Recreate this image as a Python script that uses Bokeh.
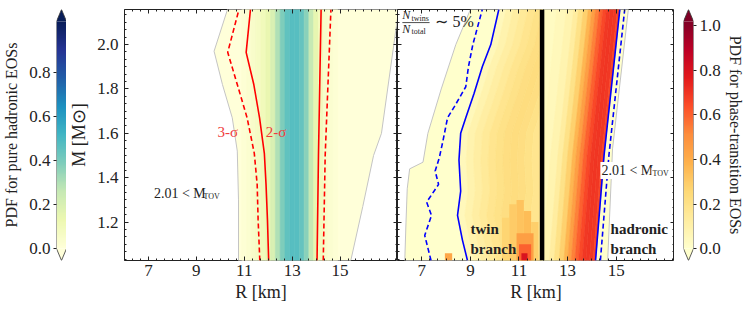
import numpy as np
from bokeh.plotting import figure
from bokeh.layouts import row
from bokeh.models import (ColumnDataSource, FixedTicker, LinearAxis, LinearColorMapper,
                          PrintfTickFormatter, Span, CustomLabelingPolicy)
from bokeh.palettes import YlGnBu9, YlOrRd9
from bokeh.transform import linear_cmap
from bokeh.core.properties import value
from bokeh.embed import file_html
from bokeh.resources import INLINE

FONT = "Liberation Serif"

# ---------------- axes / ticks ----------------
R_range = (6.0, 17.4)
M_range = (1.027, 2.158)
R_ticks = [7, 9, 11, 13, 15]
M_ticks = [1.2, 1.4, 1.6, 1.8, 2.0]
cb_had_ticks = [0.0, 0.2, 0.4, 0.6, 0.8]
cb_pt_ticks = [0.0, 0.2, 0.4, 0.6, 0.8, 1.0]
cb_had_max = 1.03
cb_pt_max = 1.02

# ---------------- left panel: pure hadronic EOSs ----------------
had_support_left_R = [10.76, 10.76, 10.71, 10.5, 10.09, 9.74, 10.3]
had_support_left_M = [1.027, 1.3, 1.52, 1.67, 1.82, 1.97, 2.158]
had_support_right_R = [17.45, 16.73, 16.4, 15.95, 15.45]
had_support_right_M = [2.158, 1.6, 1.5, 1.27, 1.027]

had_pdf_R = [11.0, 11.2, 11.4, 11.6, 11.8, 12.0, 12.2, 12.4, 12.6, 12.8,
             13.0, 13.2, 13.4, 13.6, 13.8, 14.0, 14.2, 14.4, 14.6, 14.8]
had_pdf = [0.02, 0.03, 0.05, 0.07, 0.10, 0.14, 0.20, 0.30, 0.39, 0.45,
           0.47, 0.47, 0.44, 0.37, 0.26, 0.15, 0.09, 0.05, 0.03, 0.02]

sig_left_M = [1.027, 1.21, 1.37, 1.51, 1.67, 1.82, 1.965, 2.158]
sig2_left_R = [12.02, 11.97, 11.91, 11.84, 11.64, 11.4, 11.08, 11.26]
sig3_left_R = [11.65, 11.58, 11.54, 11.42, 11.12, 10.71, 10.31, 10.78]
sig_right_M = [1.027, 1.5, 2.158]
sig2_right_R = [14.04, 14.1, 14.21]
sig3_right_R = [14.3, 14.38, 14.62]

# ---------------- right panel: phase-transition EOSs ----------------
pt_support_left_R = [6.3, 6.35, 6.4, 6.5, 7.05, 7.25, 7.8, 8.4, 9.0]
pt_support_left_M = [1.027, 1.2, 1.35, 1.44, 1.47, 1.6, 1.8, 2.0, 2.158]
pt_support_right_R = [15.5, 14.85, 14.65]
pt_support_right_M = [2.158, 1.53, 1.027]

twin_solid_M = [1.027, 1.12, 1.23, 1.34, 1.48, 1.6, 1.67, 1.78, 1.9, 2.0, 2.158]
twin_solid_R = [8.88, 8.67, 8.47, 8.6, 8.53, 8.6, 8.81, 9.15, 9.49, 9.84, 10.17]
twin_dash_M = [1.027, 1.14, 1.23, 1.29, 1.37, 1.43, 1.49, 1.56, 1.67, 1.72, 1.81, 1.9, 2.0, 2.158]
twin_dash_R = [7.38, 7.12, 7.4, 7.2, 7.69, 7.55, 7.72, 7.86, 8.06, 8.34, 8.81, 8.92, 9.1, 9.49]

hb_line_M = [1.027, 1.5, 2.158]
hb_solid_R = [14.15, 14.5, 15.15]
hb_dash_R = [14.35, 14.7, 15.35]

pt_onset_R = 11.95

# PDF bands measured as offset from the blue solid lines
twin_band_edges = [0.0, 0.3, 0.6, 0.9, 1.2, 1.5, 1.8, 2.1, 2.4, 2.7, 3.0, 3.5]
twin_band_pdf = [0.05, 0.09, 0.12, 0.15, 0.18, 0.20, 0.22, 0.23, 0.22, 0.20, 0.18]
hb_band_edges = [-3.4, -2.6, -2.2, -1.9, -1.7, -1.5, -1.3, -1.15, -1.0, -0.85,
                 -0.7, -0.55, -0.4, -0.25, -0.1, 0.0]
hb_band_pdf = [0.03, 0.05, 0.08, 0.13, 0.20, 0.28, 0.37, 0.45, 0.53, 0.60,
               0.65, 0.69, 0.70, 0.69, 0.66]

# dense streaks of the twin branch near the bottom
blob_R0 = [10.3, 10.6, 10.9, 11.2, 11.5, 10.9, 11.0, 11.1, 7.95]
blob_R1 = [10.6, 10.9, 11.2, 11.5, 11.8, 11.6, 11.5, 11.35, 8.25]
blob_M0 = [1.027, 1.027, 1.027, 1.027, 1.027, 1.027, 1.027, 1.027, 1.027]
blob_M1 = [1.22, 1.28, 1.30, 1.25, 1.20, 1.15, 1.10, 1.06, 1.06]
blob_pdf = [0.27, 0.30, 0.33, 0.35, 0.29, 0.45, 0.60, 0.80, 0.42]


# ---------------- helpers ----------------
def interp_hex(colors, n=256):
    rgb = np.array([[int(c[i:i + 2], 16) for i in (1, 3, 5)] for c in colors], float)
    pos = np.linspace(0, 1, len(colors))
    out = []
    for t in np.linspace(0, 1, n):
        out.append('#%02x%02x%02x' % tuple(int(round(np.interp(t, pos, rgb[:, k]))) for k in range(3)))
    return out


pal_had = interp_hex(list(YlGnBu9)[::-1])
pal_pt = interp_hex(list(YlOrRd9)[::-1])

H = 310
FRAME_TOP = 9
FRAME_H = 251

R_minor = list(np.arange(6.0, 17.45, 1.0 / 3.0))
M_minor = list(np.arange(1.0, 2.2, 0.2 / 6.0))


def style_axis(ax, ticks, minor, fmt, labels=True):
    ax.ticker = FixedTicker(ticks=ticks, minor_ticks=minor)
    ax.formatter = PrintfTickFormatter(format=fmt)
    ax.major_tick_in = 4
    ax.major_tick_out = 0
    ax.minor_tick_in = 2
    ax.minor_tick_out = 0
    ax.major_tick_line_color = "#222222"
    ax.minor_tick_line_color = "#222222"
    ax.axis_line_color = None
    if labels:
        ax.major_label_text_font = FONT
        ax.major_label_text_font_size = "17px"
        ax.major_label_text_color = "#222222"
    else:
        ax.major_label_policy = CustomLabelingPolicy(code="return []")
        ax.major_label_text_font_size = "0px"
        ax.major_label_standoff = 0


def make_panel(width, mb_left, left_labels, ylabel):
    p = figure(width=width, height=H, x_range=R_range, y_range=M_range,
               min_border_left=mb_left, min_border_right=0, min_border_top=FRAME_TOP,
               min_border_bottom=H - FRAME_TOP - FRAME_H,
               output_backend="svg", toolbar_location=None)
    p.grid.visible = False
    p.outline_line_color = "#222222"
    p.outline_line_width = 1
    style_axis(p.xaxis[0], R_ticks, R_minor, "%d")
    p.xaxis[0].major_label_standoff = 4
    p.xaxis[0].axis_label = "R [km]"
    p.xaxis[0].axis_label_text_font = FONT
    p.xaxis[0].axis_label_text_font_size = "18px"
    p.xaxis[0].axis_label_text_font_style = "normal"
    p.xaxis[0].axis_label_standoff = 3
    p.xaxis[0].axis_label_text_color = "#222222"
    style_axis(p.yaxis[0], M_ticks, M_minor, "%.1f", labels=left_labels)
    if left_labels:
        p.yaxis[0].major_label_standoff = 6
        p.yaxis[0].axis_label = ylabel
        p.yaxis[0].axis_label_text_font = FONT
        p.yaxis[0].axis_label_text_font_size = "18px"
        p.yaxis[0].axis_label_text_font_style = "normal"
        p.yaxis[0].axis_label_standoff = 5
        p.yaxis[0].axis_label_text_color = "#222222"
    top = LinearAxis()
    style_axis(top, R_ticks, R_minor, "%d", labels=False)
    p.add_layout(top, "above")
    right = LinearAxis()
    style_axis(right, M_ticks, M_minor, "%.1f", labels=False)
    p.add_layout(right, "right")
    return p


def offset_bands(line_R, line_M, edges, clip_lo=None, clip_hi=None):
    base = np.asarray(line_R, float)
    ms = list(line_M)
    xs, ys = [], []
    for d0, d1 in zip(edges[:-1], edges[1:]):
        a = base + d0
        b = base + d1
        if clip_lo is not None:
            a = np.maximum(a, clip_lo)
            b = np.maximum(b, clip_lo)
        if clip_hi is not None:
            a = np.minimum(a, clip_hi)
            b = np.minimum(b, clip_hi)
        xs.append(list(a) + list(b[::-1]))
        ys.append(ms + ms[::-1])
    return xs, ys


def txt(p, x, y, t, size, color="#222222", style="normal", align="left", bg=None):
    kw = {}
    if bg is not None:
        kw = dict(background_fill_color=bg, padding=1)
    p.text(x=[x], y=[y], text=[t], text_font=value(FONT), text_font_size=size,
           text_color=color, text_font_style=style, text_align=align,
           text_baseline="middle", **kw)


# ---------------- left panel ----------------
p1 = make_panel(52 + 279, 52, True, "M [M⊙]")
p1.patch(had_support_left_R + had_support_right_R, had_support_left_M + had_support_right_M,
         fill_color=pal_had[0], line_color="#c4c4c4", line_width=1)
edges = [had_pdf_R[0] - 0.1] + [0.5 * (a + b) for a, b in zip(had_pdf_R[:-1], had_pdf_R[1:])] + [had_pdf_R[-1] + 0.1]
src = ColumnDataSource(dict(l=edges[:-1], r=edges[1:], v=had_pdf))
cm_had = linear_cmap("v", pal_had, 0, cb_had_max)
p1.quad(left="l", right="r", bottom=M_range[0], top=M_range[1], source=src,
        fill_color=cm_had, line_color=cm_had, line_width=0.6)
p1.line(sig2_left_R, sig_left_M, line_color="red", line_width=1.6)
p1.line(sig2_right_R, sig_right_M, line_color="red", line_width=1.6)
p1.line(sig3_left_R, sig_left_M, line_color="red", line_width=1.6, line_dash="5 3")
p1.line(sig3_right_R, sig_right_M, line_color="red", line_width=1.6, line_dash="5 3")
txt(p1, 9.88, 1.604, "3-σ", "15px", color="#f03c3c")
txt(p1, 11.9, 1.604, "2-σ", "15px", color="#f03c3c")
txt(p1, 7.23, 1.329, "2.01 < M", "14px")
txt(p1, 9.3, 1.316, "TOV", "8px")

# ---------------- right panel ----------------
p2 = make_panel(277, 0, False, None)
p2.patch(pt_support_left_R + pt_support_right_R, pt_support_left_M + pt_support_right_M,
         fill_color=pal_pt[0], line_color="#c4c4c4", line_width=1)
cm_pt = linear_cmap("v", pal_pt, 0, cb_pt_max)
xs, ys = offset_bands(twin_solid_R, twin_solid_M, twin_band_edges, clip_hi=pt_onset_R)
p2.patches(xs="xs", ys="ys", source=ColumnDataSource(dict(xs=xs, ys=ys, v=twin_band_pdf)),
           fill_color=cm_pt, line_color=cm_pt, line_width=0.6)
xs, ys = offset_bands(hb_solid_R, hb_line_M, hb_band_edges, clip_lo=pt_onset_R)
p2.patches(xs="xs", ys="ys", source=ColumnDataSource(dict(xs=xs, ys=ys, v=hb_band_pdf)),
           fill_color=cm_pt, line_color=cm_pt, line_width=0.6)
p2.quad(left="l", right="r", bottom="b", top="t",
        source=ColumnDataSource(dict(l=blob_R0, r=blob_R1, b=blob_M0, t=blob_M1, v=blob_pdf)),
        fill_color=cm_pt, line_color=None)
p2.add_layout(Span(location=pt_onset_R, dimension="height", line_color="black", line_width=4.5))
p2.line(twin_solid_R, twin_solid_M, line_color="blue", line_width=1.6)
p2.line(twin_dash_R, twin_dash_M, line_color="blue", line_width=1.6, line_dash="5 3")
p2.line(hb_solid_R, hb_line_M, line_color="blue", line_width=1.6)
p2.line(hb_dash_R, hb_line_M, line_color="blue", line_width=1.6, line_dash="5 3")
txt(p2, 6.2, 2.131, "N", "12px", style="italic")
txt(p2, 6.58, 2.119, "twins", "8px")
p2.segment(x0=[6.2], y0=[2.099], x1=[7.32], y1=[2.099], line_color="#222222", line_width=0.8)
txt(p2, 6.2, 2.072, "N", "12px", style="italic")
txt(p2, 6.58, 2.060, "total", "8px")
txt(p2, 7.56, 2.104, "∼ 5%", "16px")
txt(p2, 9.0, 1.167, "twin", "15px", style="bold")
txt(p2, 9.0, 1.077, "branch", "15px", style="bold")
txt(p2, 14.77, 1.167, "hadronic", "15px", style="bold")
txt(p2, 14.77, 1.077, "branch", "15px", style="bold")
txt(p2, 14.35, 1.433, "2.01 < M", "14px", bg="white")
txt(p2, 16.45, 1.42, "TOV", "8px", bg="white")


# ---------------- colour bars ----------------
def make_cbar(width, mb_left, mb_right, side, pal, vmax, ticks, label, lab_standoff):
    ext = 12.0 * vmax / 230.0
    f = figure(width=width, height=H, x_range=(0, 1), y_range=(-ext, vmax + ext),
               min_border_left=mb_left, min_border_right=mb_right, min_border_top=8,
               min_border_bottom=H - 8 - 254, x_axis_location=None, y_axis_location=side,
               output_backend="svg", toolbar_location=None)
    f.grid.visible = False
    f.outline_line_color = None
    grad = np.linspace(0, vmax, 256).reshape(256, 1)
    f.image(image=[grad], x=0, y=0, dw=1, dh=vmax,
            color_mapper=LinearColorMapper(palette=pal, low=0, high=vmax))
    f.patch([0, 1, 0.5], [vmax, vmax, vmax + ext], fill_color=pal[-1], line_color=None)
    f.patch([0, 1, 0.5], [0, 0, -ext], fill_color=pal[0], line_color=None)
    f.line([0, 0, 0.5, 1, 1, 0.5, 0], [0, vmax, vmax + ext, vmax, 0, -ext, 0],
           line_color="#333333", line_width=0.8)
    ax = f.yaxis[0]
    ax.ticker = FixedTicker(ticks=ticks, minor_ticks=[])
    ax.formatter = PrintfTickFormatter(format="%.1f")
    ax.major_tick_out = 3
    ax.major_tick_in = 0
    ax.minor_tick_out = 0
    ax.minor_tick_in = 0
    ax.major_tick_line_color = "#222222"
    ax.axis_line_color = None
    ax.major_label_standoff = 3
    ax.major_label_text_font = FONT
    ax.major_label_text_font_size = "17px"
    ax.major_label_text_color = "#222222"
    ax.axis_label = label
    ax.axis_label_text_font = FONT
    ax.axis_label_text_font_size = "16px"
    ax.axis_label_text_font_style = "normal"
    ax.axis_label_standoff = lab_standoff
    ax.axis_label_text_color = "#222222"
    return f


cb1 = make_cbar(66, 54, 0, "left", pal_had, cb_had_max, cb_had_ticks, "PDF for pure hadronic EOSs", 6)
cb2 = make_cbar(73, 9, 54, "right", pal_pt, cb_pt_max, cb_pt_ticks, "PDF for phase-transition EOSs", 3)

layout = row(cb1, p1, p2, cb2)
open("out.html", "w").write(file_html(layout, INLINE))
